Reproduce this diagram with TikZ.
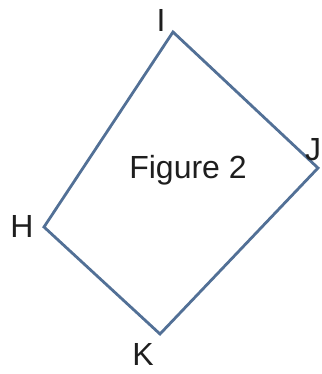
\documentclass[tikz,border=0pt]{standalone}
\usepackage{fontspec}
\setmainfont{Liberation Sans}
\definecolor{edgeblue}{RGB}{82,112,150}
\definecolor{txt}{RGB}{30,30,30}
\begin{document}
\begin{tikzpicture}[x=1pt,y=-1pt,
  lbl/.style={text=txt,font=\fontsize{32}{32}\selectfont,inner sep=0pt,anchor=center},
  edge/.style={draw=edgeblue,line width=2.8pt,line join=miter}]
\useasboundingbox (0,0) rectangle (321,374);
\coordinate (I) at (173,32);
\coordinate (J) at (318,168);
\coordinate (K) at (160,334);
\coordinate (H) at (44,227);
\draw[edge] (I) -- (J) -- (K) -- (H) -- cycle;
\node[lbl] (lI) at (161,20) {I};
\node[lbl] (lJ) at (313,150) {J};
\node[lbl] (lH) at (22,226) {H};
\node[lbl] (lK) at (143,354) {K};
\node[lbl] (fig) at (188,170) {Figure 2};
\end{tikzpicture}
\end{document}
